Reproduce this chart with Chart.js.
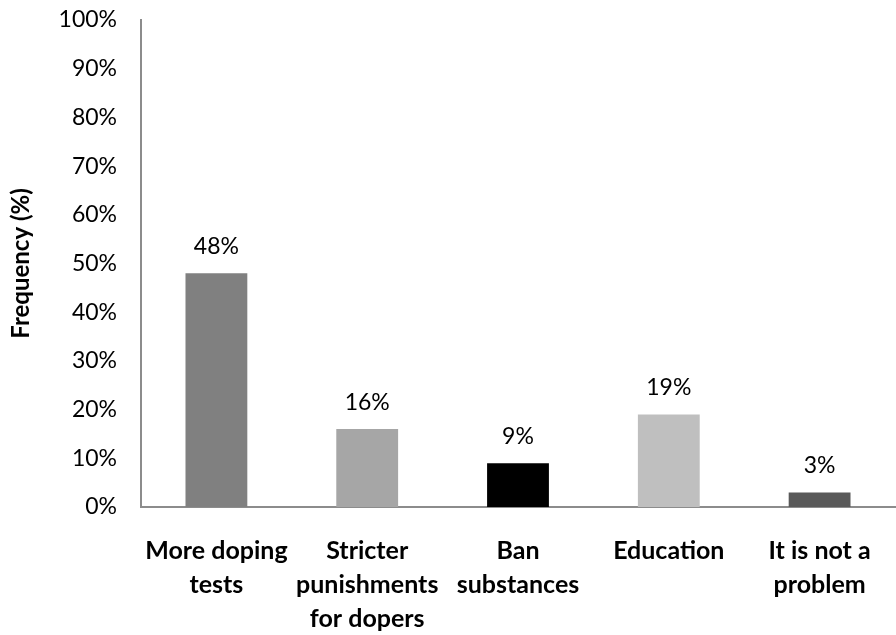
<!DOCTYPE html>
<html>
<head>
<meta charset="utf-8">
<script src="https://cdn.jsdelivr.net/npm/chart.js@4.4.1/dist/chart.umd.min.js"></script>
<style>
  html, body { margin: 0; padding: 0; background: #ffffff; }
  #wrap { width: 896px; height: 635px; position: relative; }
</style>
</head>
<body>
<div id="wrap"><canvas id="chart"></canvas></div>
<script>
// Suggested measures and the share of respondents choosing each
const categories = [
  ['More doping', 'tests'],
  ['Stricter', 'punishments', 'for dopers'],
  ['Ban', 'substances'],
  ['Education'],
  ['It is not a', 'problem']
];
const frequency = [48, 16, 9, 19, 3];
const barColors = ['#808080', '#a6a6a6', '#000000', '#bfbfbf', '#595959'];
const yTicks = [0, 10, 20, 30, 40, 50, 60, 70, 80, 90, 100];

const FONT = 'Lato, "Open Sans", sans-serif';

// Writes the percentage above each bar
const valueLabels = {
  id: 'valueLabels',
  afterDatasetsDraw(chart) {
    const ctx = chart.ctx;
    const meta = chart.getDatasetMeta(0);
    ctx.save();
    ctx.font = '23px ' + FONT;
    ctx.fillStyle = '#000000';
    ctx.textAlign = 'center';
    ctx.textBaseline = 'middle';
    meta.data.forEach((bar, i) => {
      ctx.fillText(frequency[i] + '%', bar.x, bar.y - 27);
    });
    ctx.restore();
  }
};

new Chart(document.getElementById('chart'), {
  type: 'bar',
  data: {
    labels: categories,
    datasets: [{
      data: frequency,
      backgroundColor: barColors,
      borderWidth: 0,
      categoryPercentage: 1.0,
      barPercentage: 0.41
    }]
  },
  options: {
    responsive: true,
    maintainAspectRatio: false,
    animation: false,
    layout: { padding: { top: 20, right: 1, left: 0, bottom: 0 } },
    plugins: {
      legend: { display: false },
      tooltip: { enabled: false }
    },
    scales: {
      x: {
        grid: { display: false, drawTicks: false },
        border: { display: true, color: '#8c8c8c', width: 2 },
        ticks: {
          color: '#000000',
          font: { family: FONT, size: 25, weight: 'bold', lineHeight: '34px' },
          padding: 27,
          maxRotation: 0,
          autoSkip: false
        },
        afterFit(scale) {
          scale.height = 128;
          scale.paddingLeft = 0;
          scale.paddingRight = 0;
        }
      },
      y: {
        min: 0,
        max: 100,
        afterBuildTicks(scale) { scale.ticks = yTicks.map(v => ({ value: v })); },
        grid: { display: false, drawTicks: false },
        border: { display: true, color: '#8c8c8c', width: 2 },
        ticks: {
          color: '#000000',
          font: { family: FONT, size: 23 },
          padding: 24,
          callback: v => v + '%'
        },
        title: {
          display: true,
          text: 'Frequency (%)',
          color: '#000000',
          font: { family: FONT, size: 24, weight: 'bold' },
          padding: { top: 7, bottom: 0 }
        },
        afterFit(scale) {
          scale.width = 141;
          scale.paddingTop = 0;
          scale.paddingBottom = 0;
        }
      }
    }
  },
  plugins: [valueLabels]
});
</script>
</body>
</html>
